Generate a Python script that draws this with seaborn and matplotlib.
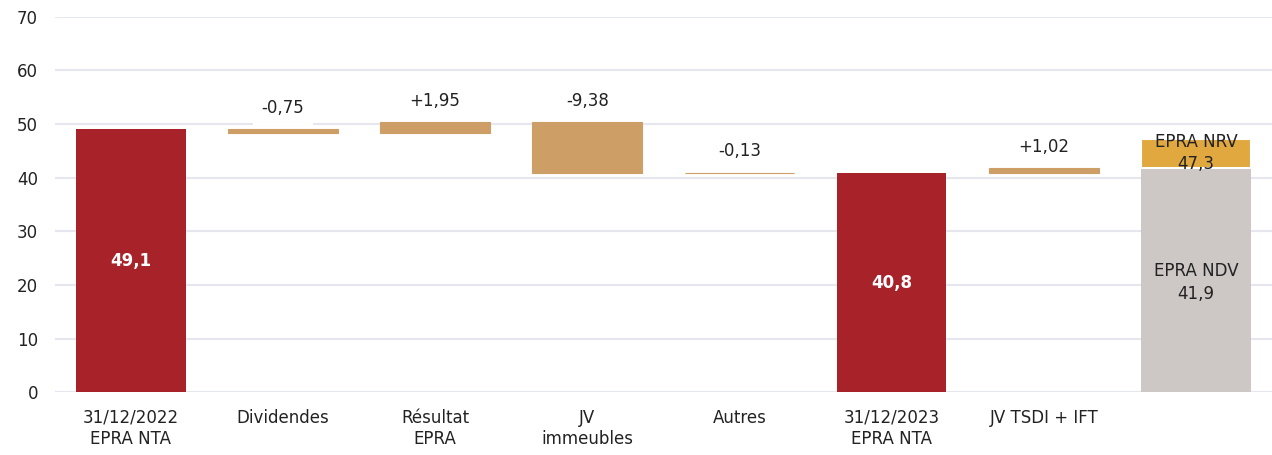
import seaborn as sns
import matplotlib.pyplot as plt
import pandas as pd

# data
categories = ["31/12/2022\nEPRA NTA", "Dividendes", "Résultat\nEPRA", "JV\nimmeubles",
              "Autres", "31/12/2023\nEPRA NTA", "JV TSDI + IFT", " "]
changes = [49.1, -0.75, 1.95, -9.38, -0.13, 40.8, 1.02, 41.9]
kinds = ["total", "step", "step", "step", "step", "total", "step", "ndv"]
labels = ["49,1", "-0,75", "+1,95", "-9,38", "-0,13", "40,8", "+1,02", "EPRA NDV\n41,9"]
nrv_value = 47.3
nrv_label = "EPRA NRV\n47,3"

red = "#A8222A"
tan = "#CD9F66"
gold = "#E0A83E"
grey = "#CDC8C5"

# compute waterfall bottoms / heights
bottoms, heights = [], []
level = 0
for v, k in zip(changes, kinds):
    if k == "step":
        start = level
        level = level + v
        bottoms.append(min(start, level))
        heights.append(abs(v))
    else:
        bottoms.append(0)
        heights.append(v)
        level = v
df = pd.DataFrame({"cat": categories, "height": heights, "bottom": bottoms, "kind": kinds})

sns.set_theme(style="white")
plt.rcParams["font.family"] = ["DejaVu Sans"]

fig = plt.figure(figsize=(12.72, 4.55), dpi=100)
ax = fig.add_axes([0.043, 0.138, 0.957, 0.825])

sns.barplot(data=df, x="cat", y="height", order=categories, bottom=df["bottom"].values,
            width=0.72, color=tan, saturation=1, ax=ax, zorder=2)
colors = {"total": red, "step": tan, "ndv": grey}
for patch, k in zip(ax.patches, kinds):
    patch.set_facecolor(colors[k])
    if k == "step":
        # thin edge so the tiny -0,13 step stays visible
        patch.set_edgecolor(tan)
        patch.set_linewidth(0.8)
    else:
        patch.set_edgecolor("none")

# NRV segment on top of the NDV bar
nrv_df = pd.DataFrame({"cat": [categories[-1]], "height": [nrv_value - changes[-1]]})
n_before = len(ax.patches)
sns.barplot(data=nrv_df, x="cat", y="height", order=categories, bottom=changes[-1],
            width=0.72, color=gold, saturation=1, ax=ax, zorder=2)
for patch in ax.patches[n_before:]:
    patch.set_facecolor(gold)
    patch.set_edgecolor("white")
    patch.set_linewidth(1.5)

# labels
for i, (k, lab) in enumerate(zip(kinds, labels)):
    b, h = bottoms[i], heights[i]
    if k == "total":
        ax.text(i, b + h / 2, lab, ha="center", va="center", color="white",
                fontsize=12, fontweight="bold", zorder=4)
    elif k == "step":
        ax.text(i, b + h + 2.3, lab, ha="center", va="bottom", color="#222222",
                fontsize=12, zorder=4,
                bbox=dict(facecolor="white", edgecolor="none", pad=6))
    else:
        ax.text(i, 20.5, lab, ha="center", va="center", color="#222222",
                fontsize=12, linespacing=1.35, zorder=4)
ax.text(len(categories) - 1, 44.6, nrv_label, ha="center", va="center",
        color="#222222", fontsize=12, linespacing=1.35, zorder=4)

ax.set_ylim(0, 70)
ax.set_xlim(-0.5, len(categories) - 0.5)
ax.set_yticks(range(0, 71, 10))
ax.yaxis.grid(True, color="#E6E6EE", linewidth=1.5, zorder=0)
ax.set_axisbelow(True)
ax.set_xlabel("")
ax.set_ylabel("")
ax.tick_params(axis="both", length=0, labelsize=12, colors="#222222")
ax.tick_params(axis="x", pad=12)
ax.tick_params(axis="y", pad=12)
for s in ax.spines.values():
    s.set_visible(False)

fig.savefig("out.png", dpi=100)
